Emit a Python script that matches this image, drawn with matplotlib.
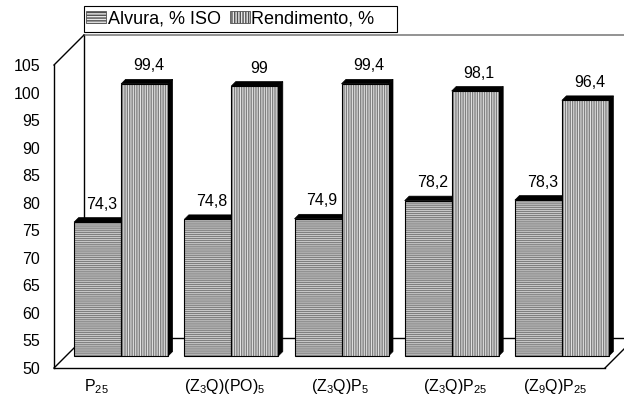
import matplotlib
matplotlib.use("Agg")
import matplotlib.pyplot as plt
from matplotlib.patches import Polygon, Patch, Rectangle

plt.rcParams['font.family'] = ['Liberation Sans', 'DejaVu Sans']
plt.rcParams['mathtext.fontset'] = 'custom'
plt.rcParams['mathtext.rm'] = 'Liberation Sans'
plt.rcParams['mathtext.it'] = 'Liberation Sans'
plt.rcParams['mathtext.default'] = 'regular'
plt.rcParams['hatch.linewidth'] = 1.0

# ---- data ----
categories = [r'P$_{25}$', r'(Z$_3$Q)(PO)$_5$', r'(Z$_3$Q)P$_5$',
              r'(Z$_3$Q)P$_{25}$', r'(Z$_9$Q)P$_{25}$']
alvura = [74.3, 74.8, 74.9, 78.2, 78.3]
rendimento = [99.4, 99.0, 99.4, 98.1, 96.4]
series_names = ['Alvura, % ISO', 'Rendimento, %']
yticks = [50, 55, 60, 65, 70, 75, 80, 85, 90, 95, 100, 105]

# ---- layout / style ----
W, H, DPI = 624, 400, 100
fig = plt.figure(figsize=(W / DPI, H / DPI), dpi=DPI)
ax = fig.add_axes([54 / W, (H - 368) / H, (605 - 54) / W, (368 - 65) / H])
ymin, ymax = 50, 105
ax.set_xlim(-0.5, len(categories) - 0.5)
ax.set_ylim(ymin, ymax)
kx = (605 - 54) / len(categories)       # px per x unit
ky = (368 - 65) / (ymax - ymin)         # px per y unit

FS = 11.5
ax.set_yticks(yticks)
ax.set_yticklabels([str(t) for t in yticks], fontsize=FS)
ax.tick_params(axis='y', length=0, pad=10)
ax.set_xticks([])
for s in ['top', 'right']:
    ax.spines[s].set_visible(False)
for s in ['left', 'bottom']:
    ax.spines[s].set_color('black')
    ax.spines[s].set_linewidth(1.0)
ax.patch.set_visible(False)

# 3D geometry in pixels
DW = 30     # wall depth
D0 = 12     # bar depth position
T = 4.5     # bar thickness
wdx, wdy = DW / kx, DW / ky
sx, sy = D0 / kx, D0 / ky
tx, ty = T / kx, T / ky

x0, x1 = -0.5, len(categories) - 0.5
kw = dict(color='black', lw=1.0, clip_on=False, zorder=1)
# back wall
ax.plot([x0 + wdx, x0 + wdx], [ymin + wdy, ymax + wdy], **kw)
ax.plot([x0 + wdx, x1 + wdx + 1], [ymax + wdy, ymax + wdy],
        color='#808080', lw=1.2, clip_on=False, zorder=1)
# floor
ax.plot([x0 + wdx, x1 + wdx], [ymin + wdy, ymin + wdy], **kw)
ax.plot([x0, x0 + wdx], [ymin, ymin + wdy], **kw)
ax.plot([x1, x1 + wdx], [ymin, ymin + wdy], **kw)
# top-left diagonal
ax.plot([x0, x0 + wdx], [ymax, ymax + wdy], **kw)

group_w = 94 / kx
bw = group_w / 2
hatches = ['-' * 8, '|' * 7]
hatch_col = '#808080'
face_col = '#e8e8e8'

z = 2
for si, vals in enumerate([alvura, rendimento]):
    for i, v in enumerate(vals):
        left = i - group_w / 2 + si * bw + sx
        right = left + bw
        top = v + sy
        bot = ymin + sy
        # side face
        ax.add_patch(Polygon([(right, bot), (right, top), (right + tx, top + ty),
                              (right + tx, bot + ty)], closed=True,
                             facecolor='black', edgecolor='black', lw=0.5,
                             clip_on=False, zorder=z + si * 3))
        # top face
        ax.add_patch(Polygon([(left, top), (right, top), (right + tx, top + ty),
                              (left + tx, top + ty)], closed=True,
                             facecolor='black', edgecolor='black', lw=0.5,
                             clip_on=False, zorder=z + si * 3))
    xs = [i - group_w / 2 + si * bw + sx + bw / 2 for i in range(len(vals))]
    hts = [v - ymin for v in vals]
    ax.bar(xs, hts, width=bw, bottom=ymin + sy, facecolor=face_col,
           edgecolor=hatch_col, linewidth=0, hatch=hatches[si],
           zorder=z + si * 3 + 1, clip_on=False)
    ax.bar(xs, hts, width=bw, bottom=ymin + sy, fill=False,
           edgecolor='black', linewidth=0.8, zorder=z + si * 3 + 2,
           clip_on=False)
    for x, v in zip(xs, vals):
        lab = f"{v:g}".replace('.', ',')
        ax.text(x + 4 / kx, v + sy + 18 / ky, lab, ha='center', va='center',
                fontsize=FS, zorder=20)

# category labels
lab_shift = [-0.22, -0.06, -0.01, 0.03, -0.06]
for i, c in enumerate(categories):
    ax.text(i + sx + lab_shift[i], ymin - 19 / ky, c, ha='center', va='center',
            fontsize=FS, clip_on=False)

# legend
fig.patches.append(Rectangle((84 / W, 1 - 32 / H), (397 - 84) / W, 26 / H,
                             transform=fig.transFigure, fill=True,
                             facecolor='white', edgecolor='black', lw=0.8,
                             zorder=0))
handles = [Patch(facecolor=face_col, edgecolor='#505050', hatch=h, lw=0.6)
           for h in ['-' * 6, '|' * 6]]
leg = fig.legend(handles, series_names, loc='center left',
                 bbox_to_anchor=(86 / W, 1 - 19 / H), ncol=2, frameon=False,
                 borderpad=0.0, handlelength=1.1, handleheight=0.6,
                 handletextpad=0.1, columnspacing=0.5, borderaxespad=0,
                 fontsize=13)

fig.savefig('out.png', dpi=DPI)
